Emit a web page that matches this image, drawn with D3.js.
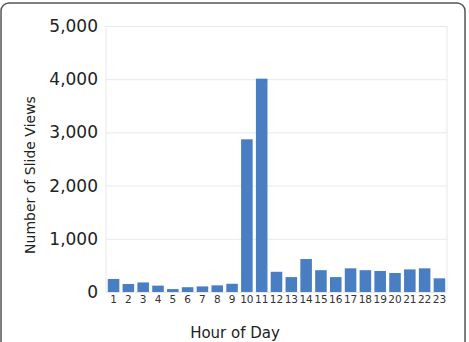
<!DOCTYPE html>
<html>
<head>
<meta charset="utf-8">
<script src="https://cdn.jsdelivr.net/npm/d3@7"></script>
<style>
    body { margin: 0; background: #fff; }
    text { font-family: "DejaVu Sans", sans-serif; }
    .grid line { stroke: #e6e9ec; }
    .grid path { display: none; }
</style>
</head>
<body>
<div id="chart"></div>
<script>
// hours and slide views per hour
var hours = ["1","2","3","4","5","6","7","8","9","10","11","12","13","14","15","16","17","18","19","20","21","22","23"];
var views = [245, 150, 180, 120, 55, 90, 105, 125, 155, 2870, 4010, 380, 280, 620, 410, 280, 445, 410, 395, 357, 425, 445, 257];
var yTicks = [0, 1000, 2000, 3000, 4000, 5000];

var W = 469, H = 342;
var margin = {top: 26, right: 22, bottom: 50, left: 106};
var width = W - margin.left - margin.right,
    height = H - margin.top - margin.bottom;

var svg = d3.select("#chart").append("svg")
    .attr("width", W)
    .attr("height", H);

// panel border
svg.append("rect")
    .attr("x", 1).attr("y", 3)
    .attr("width", 464).attr("height", 350)
    .attr("rx", 8)
    .attr("fill", "#fff")
    .attr("stroke", "#555")
    .attr("stroke-width", 1.5);

var g = svg.append("g")
    .attr("transform", "translate(" + margin.left + "," + margin.top + ")");

var x = d3.scaleBand()
    .domain(hours)
    .range([0, width])
    .paddingInner(0.22)
    .paddingOuter(0.12);

var y = d3.scaleLinear()
    .domain([0, 5000])
    .range([height, 0]);

// gridlines
g.append("g")
    .attr("class", "grid")
    .call(d3.axisLeft(y).tickValues(yTicks).tickSize(-width).tickFormat(""));

g.append("line")
    .attr("x1", 0).attr("x2", 0).attr("y1", 0).attr("y2", height)
    .attr("stroke", "#e6e9ec");
g.append("line")
    .attr("x1", width).attr("x2", width).attr("y1", 0).attr("y2", height)
    .attr("stroke", "#e6e9ec");

// bars
g.selectAll(".bar")
    .data(views)
    .enter().append("rect")
    .attr("class", "bar")
    .attr("x", function(d, i) { return x(hours[i]); })
    .attr("width", x.bandwidth())
    .attr("y", function(d) { return y(d); })
    .attr("height", function(d) { return height - y(d); })
    .attr("fill", "#4a7ec3");

// y axis labels
var yAxis = g.append("g")
    .call(d3.axisLeft(y).tickValues(yTicks).tickSize(0).tickPadding(8).tickFormat(d3.format(",")));
yAxis.select(".domain").remove();
yAxis.selectAll("text")
    .attr("font-size", 17)
    .attr("fill", "#222");

// x axis labels
var xAxis = g.append("g")
    .attr("transform", "translate(0," + height + ")")
    .call(d3.axisBottom(x).tickSize(0).tickPadding(4));
xAxis.select(".domain").remove();
xAxis.selectAll("text")
    .attr("font-size", 10.5)
    .attr("fill", "#333");

// axis titles
svg.append("text")
    .attr("transform", "translate(35,175) rotate(-90)")
    .attr("text-anchor", "middle")
    .attr("font-size", 14)
    .attr("fill", "#222")
    .text("Number of Slide Views");

svg.append("text")
    .attr("x", 235)
    .attr("y", 338)
    .attr("text-anchor", "middle")
    .attr("font-size", 15)
    .attr("fill", "#222")
    .text("Hour of Day");
</script>
</body>
</html>
